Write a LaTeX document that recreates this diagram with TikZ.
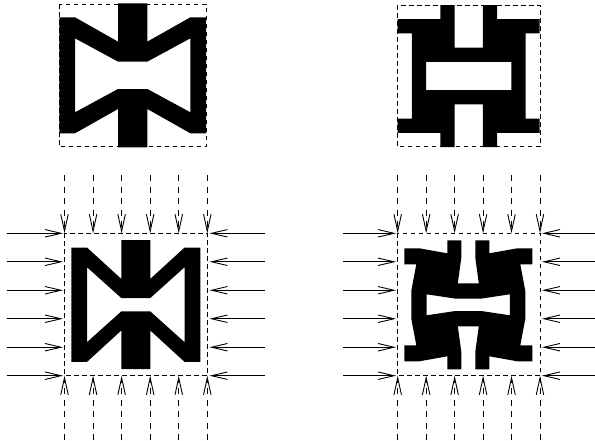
\documentclass[tikz,border=0pt]{standalone}
\usetikzlibrary{arrows.meta}
\begin{document}
\begin{tikzpicture}[x=1pt,y=-1pt,
  frame/.style={draw, line width=0.8pt, dash pattern=on 4.5pt off 3.5pt},
  blackfill/.style={fill=black, even odd rule},
  harrow/.style={draw, line width=0.9pt, -{Straight Barb[length=16pt,width=7.5pt]}},
  varrow/.style={draw, line width=0.9pt, dash pattern=on 6pt off 5.5pt, -{Straight Barb[length=17pt,width=7.5pt]}}
]
\useasboundingbox (0,0) rectangle (595,440);

% ---------- frames ----------
\draw[frame] (59.3,4) rectangle (206,146.7);
\draw[frame] (397.3,5.3) rectangle (540,146.7);
\draw[frame] (64.5,233.3) rectangle (207.3,375.7);
\draw[frame] (397.7,233.3) rectangle (540,375.7);

% ---------- top-left shape ----------
\begin{scope}[shift={(132.7,75.3)}]
\fill[blackfill]
 (-73.3,58) -- (-57.7,58) -- (-14.7,33.7) -- (-14.7,72) -- (14.7,72) -- (14.7,33.7)
 -- (57.7,58) -- (73.3,58) -- (73.3,-58) -- (57.7,-58) -- (14.7,-33.7) -- (14.7,-72)
 -- (-14.7,-72) -- (-14.7,-33.7) -- (-57.7,-58) -- (-73.3,-58) -- cycle
 (-57.7,37) -- (-14.7,13.7) -- (14.7,13.7) -- (57.7,37) -- (57.7,-37)
 -- (14.7,-13.7) -- (-14.7,-13.7) -- (-57.7,-37) -- cycle;
\end{scope}

% ---------- top-right shape ----------
\begin{scope}[shift={(468.7,76)}, x=14.2pt, y=14.2pt]
\fill[blackfill]
 (-5,4) -- (-2,4) -- (-2,5) -- (-1,5) -- (-1,2) -- (1,2) -- (1,5) -- (2,5) -- (2,4)
 -- (5,4) -- (5,3) -- (4,3) -- (4,-3) -- (5,-3) -- (5,-4) -- (2,-4) -- (2,-5)
 -- (1,-5) -- (1,-2) -- (-1,-2) -- (-1,-5) -- (-2,-5) -- (-2,-4) -- (-5,-4)
 -- (-5,-3) -- (-4,-3) -- (-4,3) -- (-5,3) -- cycle
 (-3,1) rectangle (3,-1);
\end{scope}

% ---------- bottom-left shape ----------
\begin{scope}[shift={(135.8,304.7)}]
\fill[blackfill]
 (-64.5,57.2) -- (-48.8,57.2) -- (-14.5,25.8) -- (-14.5,64.5) -- (14.5,64.5) -- (14.5,25.8)
 -- (48.8,57.2) -- (64.5,57.2) -- (64.5,-57.2) -- (48.8,-57.2) -- (14.5,-25.8) -- (14.5,-64.5)
 -- (-14.5,-64.5) -- (-14.5,-25.8) -- (-48.8,-57.2) -- (-64.5,-57.2) -- cycle
 (-48.8,37.5) -- (-14.5,6.7) -- (14.5,6.7) -- (48.8,37.5) -- (48.8,-37.5)
 -- (14.5,-6.7) -- (-14.5,-6.7) -- (-48.8,-37.5) -- cycle;
\end{scope}

% ---------- bottom-right shape ----------
\begin{scope}[shift={(468.3,304.8)}]
\fill[blackfill]
 (-64,40.5) -- (-64,56.5) -- (-49,56.5) -- (-21,51.5) -- (-21,64.5) -- (-7,64.5) -- (-7,47)
 -- (-10.5,21.5) -- (10.5,21.5) -- (7,47) -- (7,64.5) -- (21,64.5) -- (21,51.5) -- (49,56.5)
 -- (64,56.5) -- (64,40.5) -- (52,40.5) -- (57,14) -- (57,-14) -- (52,-40.5) -- (64,-40.5)
 -- (64,-56.5) -- (49,-56.5) -- (21,-51.5) -- (21,-64.5) -- (7,-64.5) -- (7,-47)
 -- (10.5,-21.5) -- (-10.5,-21.5) -- (-7,-47) -- (-7,-64.5) -- (-21,-64.5) -- (-21,-51.5)
 -- (-49,-56.5) -- (-64,-56.5) -- (-64,-40.5) -- (-52,-40.5) -- (-57,-14) -- (-57,14)
 -- (-52,40.5) -- cycle
 (-41.6,10.5) -- (-13,6.2) -- (13,6.2) -- (41.6,10.5) -- (41.6,-10.5) -- (13,-6.2)
 -- (-13,-6.2) -- (-41.6,-10.5) -- cycle;
\end{scope}

% ---------- load arrows, bottom-left ----------
\foreach \k in {0,...,5} {
  \pgfmathsetmacro{\yy}{233.3+28.48*\k}
  \pgfmathsetmacro{\xx}{64.5+28.56*\k}
  \coordinate (aLs\k) at (6.7,\yy);   \coordinate (aLe\k) at (63,\yy);
  \coordinate (aRs\k) at (265,\yy);   \coordinate (aRe\k) at (209.5,\yy);
  \coordinate (aTs\k) at (\xx,175);   \coordinate (aTe\k) at (\xx,233.3);
  \coordinate (aBs\k) at (\xx,440);   \coordinate (aBe\k) at (\xx,375.7);
  \draw[harrow] (aLs\k) -- (aLe\k);
  \draw[harrow] (aRs\k) -- (aRe\k);
  \draw[varrow] (aTs\k) -- (aTe\k);
  \draw[varrow] (aBs\k) -- (aBe\k);
}

% ---------- load arrows, bottom-right ----------
\foreach \k in {0,...,5} {
  \pgfmathsetmacro{\yy}{233.3+28.48*\k}
  \pgfmathsetmacro{\xx}{397.7+28.46*\k}
  \coordinate (bLs\k) at (343.3,\yy); \coordinate (bLe\k) at (396,\yy);
  \coordinate (bRs\k) at (595,\yy);   \coordinate (bRe\k) at (542,\yy);
  \coordinate (bTs\k) at (\xx,175);   \coordinate (bTe\k) at (\xx,233.3);
  \coordinate (bBs\k) at (\xx,440);   \coordinate (bBe\k) at (\xx,375.7);
  \draw[harrow] (bLs\k) -- (bLe\k);
  \draw[harrow] (bRs\k) -- (bRe\k);
  \draw[varrow] (bTs\k) -- (bTe\k);
  \draw[varrow] (bBs\k) -- (bBe\k);
}
\end{tikzpicture}
\end{document}
